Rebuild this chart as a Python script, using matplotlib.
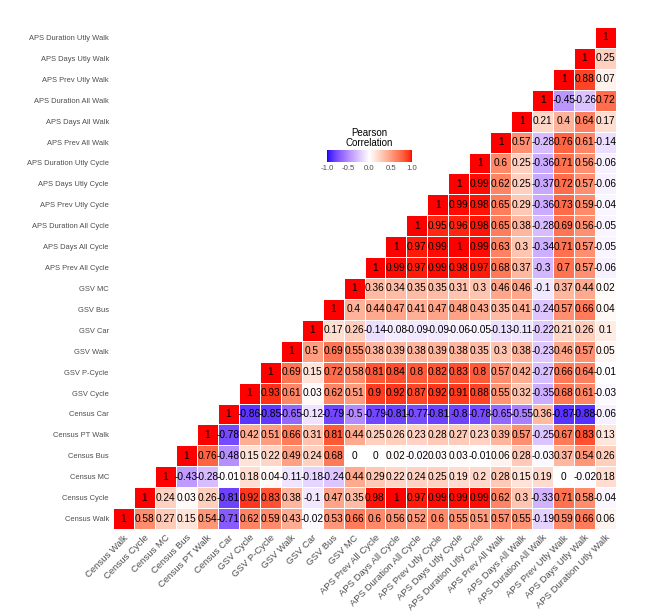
import numpy as np
import matplotlib
matplotlib.use('Agg')
import matplotlib.pyplot as plt
from matplotlib.colors import ListedColormap

plt.rcParams['font.family'] = ['Liberation Sans', 'DejaVu Sans']

labels = ['Census Walk', 'Census Cycle', 'Census MC', 'Census Bus', 'Census PT Walk',
          'Census Car', 'GSV Cycle', 'GSV P-Cycle', 'GSV Walk', 'GSV Car', 'GSV Bus',
          'GSV MC', 'APS Prev All Cycle', 'APS Days All Cycle', 'APS Duration All Cycle',
          'APS Prev Utly Cycle', 'APS Days Utly Cycle', 'APS Duration Utly Cycle',
          'APS Prev All Walk', 'APS Days All Walk', 'APS Duration All Walk',
          'APS Prev Utly Walk', 'APS Days Utly Walk', 'APS Duration Utly Walk']

# upper triangle, row i holds columns i..23
upper = [
    [1, 0.58, 0.27, 0.15, 0.54, -0.71, 0.62, 0.59, 0.43, -0.02, 0.53, 0.66, 0.6, 0.56, 0.52, 0.6, 0.55, 0.51, 0.57, 0.55, -0.19, 0.59, 0.66, 0.06],
    [1, 0.24, 0.03, 0.26, -0.81, 0.92, 0.83, 0.38, -0.1, 0.47, 0.35, 0.98, 1, 0.97, 0.99, 0.99, 0.99, 0.62, 0.3, -0.33, 0.71, 0.58, -0.04],
    [1, -0.43, -0.28, -0.01, 0.18, 0.04, -0.11, -0.18, -0.24, 0.44, 0.29, 0.22, 0.24, 0.25, 0.19, 0.2, 0.28, 0.15, 0.19, 0, -0.02, 0.18],
    [1, 0.76, -0.48, 0.15, 0.22, 0.49, 0.24, 0.68, 0, 0, 0.02, -0.02, 0.03, 0.03, -0.01, 0.06, 0.28, -0.03, 0.37, 0.54, 0.26],
    [1, -0.78, 0.42, 0.51, 0.66, 0.31, 0.81, 0.44, 0.25, 0.26, 0.23, 0.28, 0.27, 0.23, 0.39, 0.57, -0.25, 0.67, 0.83, 0.13],
    [1, -0.86, -0.85, -0.65, -0.12, -0.79, -0.5, -0.79, -0.81, -0.77, -0.81, -0.8, -0.78, -0.65, -0.55, 0.36, -0.87, -0.88, -0.06],
    [1, 0.93, 0.61, 0.03, 0.62, 0.51, 0.9, 0.92, 0.87, 0.92, 0.91, 0.88, 0.55, 0.32, -0.35, 0.68, 0.61, -0.03],
    [1, 0.69, 0.15, 0.72, 0.58, 0.81, 0.84, 0.8, 0.82, 0.83, 0.8, 0.57, 0.42, -0.27, 0.66, 0.64, -0.01],
    [1, 0.5, 0.69, 0.55, 0.38, 0.39, 0.38, 0.39, 0.38, 0.35, 0.3, 0.38, -0.23, 0.46, 0.57, 0.05],
    [1, 0.17, 0.26, -0.14, -0.08, -0.09, -0.09, -0.06, -0.05, -0.13, -0.11, -0.22, 0.21, 0.26, 0.1],
    [1, 0.4, 0.44, 0.47, 0.41, 0.47, 0.48, 0.43, 0.35, 0.41, -0.24, 0.57, 0.66, 0.04],
    [1, 0.36, 0.34, 0.35, 0.35, 0.31, 0.3, 0.46, 0.46, -0.1, 0.37, 0.44, 0.02],
    [1, 0.99, 0.97, 0.99, 0.98, 0.97, 0.68, 0.37, -0.3, 0.7, 0.57, -0.06],
    [1, 0.97, 0.99, 1, 0.99, 0.63, 0.3, -0.34, 0.71, 0.57, -0.05],
    [1, 0.95, 0.96, 0.98, 0.65, 0.38, -0.28, 0.69, 0.56, -0.05],
    [1, 0.99, 0.98, 0.65, 0.29, -0.36, 0.73, 0.59, -0.04],
    [1, 0.99, 0.62, 0.25, -0.37, 0.72, 0.57, -0.06],
    [1, 0.6, 0.25, -0.36, 0.71, 0.56, -0.06],
    [1, 0.57, -0.28, 0.76, 0.61, -0.14],
    [1, 0.21, 0.4, 0.64, 0.17],
    [1, -0.45, -0.26, 0.72],
    [1, 0.88, 0.07],
    [1, 0.25],
    [1],
]

n = len(labels)
mat = np.full((n, n), np.nan)
for i, row in enumerate(upper):
    mat[i, i:] = row

# blue - white - red gradient interpolated in Lab (like ggplot's gradient2)
M = np.array([[0.4124564, 0.3575761, 0.1804375],
              [0.2126729, 0.7151522, 0.0721750],
              [0.0193339, 0.1191920, 0.9503041]])
wp = M @ np.ones(3)

def to_lab(c):
    c = np.asarray(c, float)
    lin = np.where(c <= 0.04045, c / 12.92, ((c + 0.055) / 1.055) ** 2.4)
    xyz = M @ lin / wp
    f = np.where(xyz > (6 / 29) ** 3, np.cbrt(xyz), xyz / (3 * (6 / 29) ** 2) + 4 / 29)
    return np.array([116 * f[1] - 16, 500 * (f[0] - f[1]), 200 * (f[1] - f[2])])

def from_lab(lab):
    L, a, b = lab
    fy = (L + 16) / 116
    f = np.array([fy + a / 500, fy, fy - b / 200])
    xyz = np.where(f > 6 / 29, f ** 3, 3 * (6 / 29) ** 2 * (f - 4 / 29)) * wp
    lin = np.clip(np.linalg.solve(M, xyz), 0, 1)
    c = np.where(lin <= 0.0031308, 12.92 * lin, 1.055 * lin ** (1 / 2.4) - 0.055)
    return np.clip(c, 0, 1)

lab_b, lab_w, lab_r = to_lab([0, 0, 1]), to_lab([1, 1, 1]), to_lab([1, 0, 0])
cols = []
for t in np.linspace(-1, 1, 257):
    end = lab_b if t < 0 else lab_r
    cols.append(from_lab(lab_w + abs(t) * (end - lab_w)))
cmap = ListedColormap(cols)

fig = plt.figure(figsize=(6.69, 6.13), dpi=100)
ax = fig.add_axes([113 / 669, 84 / 613, 503 / 669, 502 / 613])
mesh = ax.pcolormesh(np.ma.masked_invalid(mat), cmap=cmap, vmin=-1, vmax=1,
                     edgecolors='white', linewidth=0.5)
for i in range(n):
    for j in range(i, n):
        ax.text(j + 0.5, i + 0.5, f'{mat[i, j]:g}', ha='center', va='center',
                fontsize=7.3, color='black')

ax.set_xlim(0, n)
ax.set_ylim(0, n)
ax.set_xticks(np.arange(n) + 0.5)
ax.set_yticks(np.arange(n) + 0.5)
ax.set_xticklabels(labels, rotation=45, ha='right', va='top', rotation_mode='anchor',
                   fontsize=6.8, color='#4d4d4d')
ax.set_yticklabels(labels, fontsize=5.4, color='#4d4d4d')
ax.tick_params(length=0, pad=3)
for s in ax.spines.values():
    s.set_visible(False)

cax = fig.add_axes([327 / 669, 451 / 613, 85 / 669, 12 / 613])
cb = fig.colorbar(mesh, cax=cax, orientation='horizontal', ticks=[-1, -0.5, 0, 0.5, 1])
cb.set_ticklabels(['-1.0', '-0.5', '0.0', '0.5', '1.0'])
cb.outline.set_visible(False)
cax.tick_params(length=0, labelsize=5.6, pad=2, colors='#4d4d4d')
fig.text(369.5 / 669, 465 / 613, 'Pearson\nCorrelation', ha='center', va='bottom',
         fontsize=7, linespacing=1.0)

plt.savefig('out.png')
